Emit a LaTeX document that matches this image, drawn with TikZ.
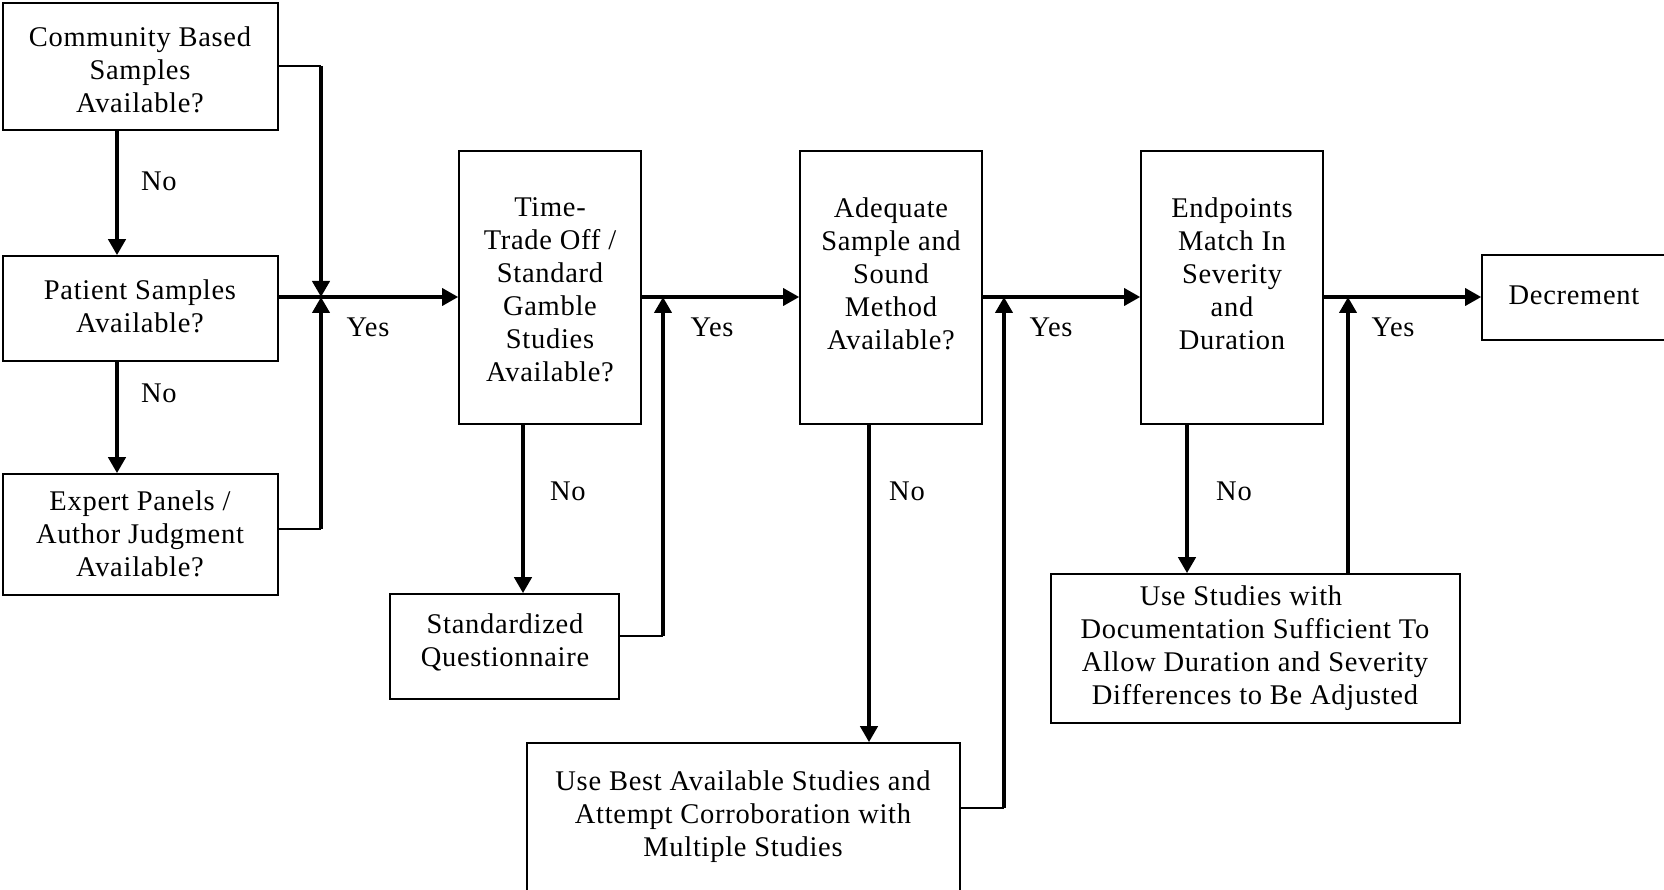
\documentclass[tikz,border=0pt]{standalone}
\usepackage{fontspec}
\setmainfont{Liberation Serif}[LetterSpace=2.5]
\usetikzlibrary{arrows.meta}

% box from corner (x1,y1) to corner (x2,y2), y pointing down
\newcommand\flowbox[5]{%
  \node[box, minimum width={#4-#2}, minimum height={#5-#3}]
    (#1) at ({(#2+#4)/2},{(#3+#5)/2}) {};}

\begin{document}
\begin{tikzpicture}[x=1pt, y=-1pt,
  box/.style={draw, rectangle, line width=1.6pt, inner sep=0pt},
  txt/.style={align=center, inner sep=0pt, font=\fontsize{28.5}{33}\selectfont},
  lbl/.style={inner sep=0pt, font=\fontsize{28.5}{33}\selectfont},
  tip/.style={-{Triangle[length=16pt, width=17pt]}},
  hflow/.style={tip, line width=3.4pt},
  vflow/.style={tip, line width=4.6pt},
  feed/.style={line width=1.8pt}
]
\useasboundingbox (0,0) rectangle (1664,890);

% boxes
\flowbox{comm}{3}{3}{278}{130}
\flowbox{pat}{3}{256}{278}{361}
\flowbox{exp}{3}{474}{278}{595}
\flowbox{time}{459}{151}{641}{424}
\flowbox{std}{390}{594}{619}{699}
\flowbox{adq}{800}{151}{982}{424}
\flowbox{ub}{527}{743}{960}{905}
\flowbox{endp}{1141}{151}{1323}{424}
\flowbox{us}{1051}{574}{1460}{723}
\flowbox{dec}{1482}{255}{1690}{340}

% box texts
\node[txt] (comm-t) at (140,70) {Community Based\\Samples\\Available?};
\node[txt] (pat-t) at (140,306) {Patient Samples\\Available?};
\node[txt] (exp-t) at (140,534) {Expert Panels /\\Author Judgment\\Available?};
\node[txt] (time-t) at (550,290) {Time-\\Trade Off /\\Standard\\Gamble\\Studies\\Available?};
\node[txt] (std-t) at (505,642) {Standardized\\Questionnaire};
\node[txt] (adq-t) at (891,274) {Adequate\\Sample and\\Sound\\Method\\Available?};
\node[txt] (ub-t) at (743,817) {Use Best Available Studies and\\Attempt Corroboration with\\Multiple Studies};
\node[txt] (endp-t) at (1232,274) {Endpoints\\Match In\\Severity\\and\\Duration};
\node[txt] (us-t) at (1255,648) {Use Studies with\hspace*{28pt}\\Documentation Sufficient To\\Allow Duration and Severity\\Differences to Be Adjusted};
\node[txt] (dec-t) at (1574,295) {Decrement};

% junction points and connector columns
\coordinate (jA) at (321,297);
\coordinate (cA) at (321,66);
\coordinate (eA) at (321,529);
\coordinate (xL) at (117,0);
\coordinate (xT) at (523,0);
\coordinate (cB) at (663,636);
\coordinate (xU) at (869,0);
\coordinate (cC) at (1004,808);
\coordinate (xS) at (1187,0);
\coordinate (xR) at (1348,0);

% "No" branches
\draw[vflow] (comm.south -| xL) -- (pat.north -| xL);
\draw[vflow] (pat.south -| xL) -- (exp.north -| xL);
\draw[vflow] (time.south -| xT) -- (std.north -| xT);
\draw[vflow] (adq.south -| xU) -- (ub.north -| xU);
\draw[vflow] (endp.south -| xS) -- (us.north -| xS);

% first merge
\draw[feed] (comm.east |- cA) -- (cA);
\draw[vflow] (cA) -- (jA);
\draw[feed] (exp.east |- eA) -- (eA);
\draw[vflow] (eA) -- (jA);

% main "Yes" line
\draw[hflow] (pat.east |- jA) -- (time.west |- jA);
\draw[hflow] (time.east |- jA) -- (adq.west |- jA);
\draw[hflow] (adq.east |- jA) -- (endp.west |- jA);
\draw[hflow] (endp.east |- jA) -- (dec.west |- jA);

% returns into the main line
\draw[feed] (std.east |- cB) -- (cB);
\draw[vflow] (cB) -- (cB |- jA);
\draw[feed] (ub.east |- cC) -- (cC);
\draw[vflow] (cC) -- (cC |- jA);
\draw[vflow] (us.north -| xR) -- (xR |- jA);

% branch labels
\node[lbl] (no1) at (159,181) {No};
\node[lbl] (no2) at (159,393) {No};
\node[lbl] (no3) at (568,491) {No};
\node[lbl] (no4) at (907,491) {No};
\node[lbl] (no5) at (1234,491) {No};
\node[lbl] (yes1) at (368,327) {Yes};
\node[lbl] (yes2) at (712,327) {Yes};
\node[lbl] (yes3) at (1051,327) {Yes};
\node[lbl] (yes4) at (1393,327) {Yes};
\end{tikzpicture}
\end{document}
